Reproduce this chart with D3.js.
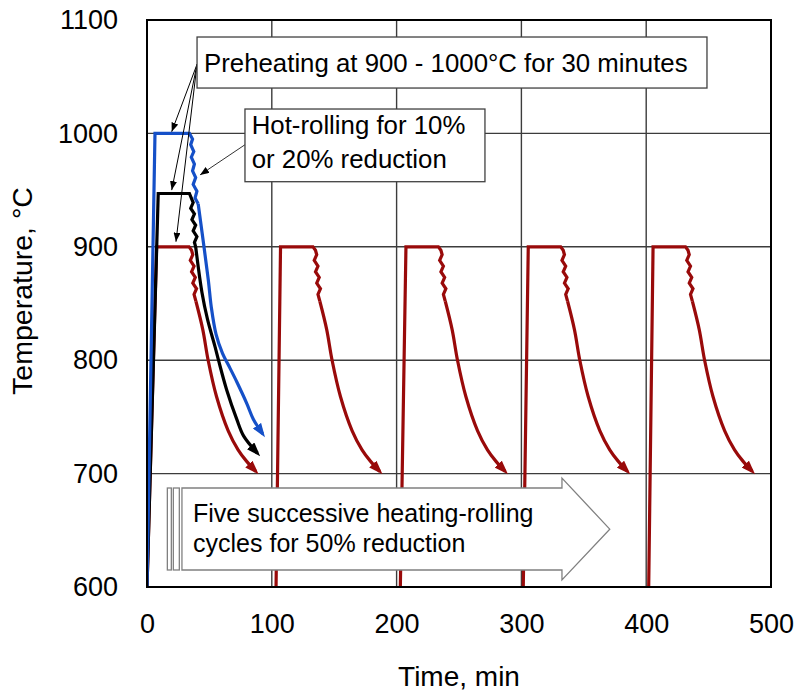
<!DOCTYPE html>
<html>
<head>
<meta charset="utf-8">
<script src="https://cdn.jsdelivr.net/npm/d3@7/dist/d3.min.js"></script>
<style>
  html, body { margin: 0; padding: 0; background: #fff; }
  svg { display: block; font-family: "Liberation Sans", Arial, sans-serif; }
</style>
</head>
<body>
<svg id="chart" width="797" height="696"></svg>
<script>
// ---------------- data ----------------
const xTicks = [0, 100, 200, 300, 400, 500];
const yTicks = [600, 700, 800, 900, 1000, 1100];
const xTitle = "Time, min";
const yTitle = "Temperature, \u00B0C";

// Blue: preheat at 1000 °C, then rolling (zigzag) and cooling
const blueHold = [[0, 600], [6.4, 1000], [34, 1000], [36.5, 995], [35, 990], [37.5, 984], [35.5, 979],
  [38, 973], [36.5, 967], [39, 961], [37, 955], [40, 949], [38.5, 943], [41, 938]];
const blueCool = [[41, 938], [49.1, 871], [51.5, 847], [55.3, 823], [60.5, 806], [65.1, 796],
  [71.9, 781], [79.9, 762], [85.2, 748], [92.7, 735]];

// Black: preheat at ~947 °C
const blackHold = [[0, 600], [9, 947], [34, 947], [37, 939], [35, 934], [38, 929], [36, 924],
  [39, 919], [37, 914], [40, 909], [38, 904], [39, 900]];
const blackCool = [[39, 900], [44, 860], [48.5, 836], [54.5, 812], [57.3, 800], [63.8, 774],
  [71.9, 748], [77.5, 733], [88.5, 718]];

// Red: five successive heating-rolling cycles at 900 °C
const redCycleStart = [0, 103.4, 203, 301.5, 402];   // time at 600 °C (start of heating)
const redCycleTop = [7.7, 107, 207.5, 305.5, 405.5];  // time reaching 900 °C
// one cycle, times counted from reaching 900 °C
const redHold = [[0, 900], [26, 900], [28, 897], [29, 893], [27, 888], [30, 883], [28, 878],
  [31, 873], [29, 868], [32, 863], [30, 858], [31.5, 852]];
const redCool = [[31.5, 852], [37, 827], [41.3, 800], [48, 768], [57.3, 738], [65.3, 721],
  [72, 711], [79.5, 702]];

// annotations (data units)
const noteTexts = ["Preheating at 900 - 1000\u00B0C for 30 minutes"];
const note2Lines = ["Hot-rolling for 10%", "or 20% reduction"];
const bigArrowLines = ["Five successive heating-rolling", "cycles for 50% reduction"];
const preheatArrowFrom = [40.1, 1061];
const preheatArrowTo = [[19.8, 1001.5], [19.8, 950], [23.2, 904.5]];
const rollArrowFrom = [78.5, 990];
const rollArrowTo = [42.5, 963.4];

// ---------------- layout ----------------
const plot = { left: 147, right: 771, top: 20, bottom: 587 };
const RED = "#990A0A", BLUE = "#1550C8", BLACK = "#000000";
const FONT = "'Liberation Sans', Arial, sans-serif";

const svg = d3.select("#chart");
const x = d3.scaleLinear().domain([0, 500]).range([plot.left, plot.right]);
const y = d3.scaleLinear().domain([600, 1100]).range([plot.bottom, plot.top]);

// markers
const defs = svg.append("defs");
function bigMarker(id, color) {
  defs.append("marker").attr("id", id)
    .attr("viewBox", "0 0 14 10").attr("refX", 10).attr("refY", 5)
    .attr("markerWidth", 14).attr("markerHeight", 10)
    .attr("markerUnits", "userSpaceOnUse").attr("orient", "auto")
    .append("path").attr("d", "M0,0 L14,5 L0,10 Z").attr("fill", color);
}
bigMarker("arrRed", RED); bigMarker("arrBlue", BLUE); bigMarker("arrBlack", BLACK);
defs.append("marker").attr("id", "arrThin")
  .attr("viewBox", "0 0 9 7").attr("refX", 9).attr("refY", 3.5)
  .attr("markerWidth", 9).attr("markerHeight", 7)
  .attr("markerUnits", "userSpaceOnUse").attr("orient", "auto")
  .append("path").attr("d", "M0,0 L9,3.5 L0,7 Z").attr("fill", "#000");
defs.append("clipPath").attr("id", "plotClip").append("rect")
  .attr("x", plot.left).attr("y", plot.top)
  .attr("width", plot.right - plot.left).attr("height", plot.bottom - plot.top);

// grid
const grid = svg.append("g");
grid.selectAll("line.v").data(xTicks.filter(d => d > 0 && d < 500)).join("line")
  .attr("x1", d => x(d)).attr("x2", d => x(d)).attr("y1", plot.top).attr("y2", plot.bottom)
  .attr("stroke", "#3c3c3c").attr("stroke-width", 1.4);
grid.selectAll("line.h").data(yTicks.filter(d => d > 600 && d < 1100)).join("line")
  .attr("x1", plot.left).attr("x2", plot.right).attr("y1", d => y(d)).attr("y2", d => y(d))
  .attr("stroke", "#3c3c3c").attr("stroke-width", 1.4);

// series
const lineLin = d3.line().x(d => x(d[0])).y(d => y(d[1])).curve(d3.curveLinear);
const lineSmooth = d3.line().x(d => x(d[0])).y(d => y(d[1])).curve(d3.curveCatmullRom.alpha(0.5));
const series = svg.append("g").attr("clip-path", "url(#plotClip)");

function drawSeries(hold, cool, color, marker) {
  series.append("path").attr("d", lineLin(hold)).attr("fill", "none")
    .attr("stroke", color).attr("stroke-width", 3.2).attr("stroke-linejoin", "miter");
  series.append("path").attr("d", lineSmooth(cool)).attr("fill", "none")
    .attr("stroke", color).attr("stroke-width", 3.2).attr("marker-end", `url(#${marker})`);
}
redCycleStart.forEach((t0, i) => {
  const tt = redCycleTop[i];
  const hold = [[t0, 600]].concat(redHold.map(([dt, T]) => [tt + dt, T]));
  const cool = redCool.map(([dt, T]) => [tt + dt, T]);
  drawSeries(hold, cool, RED, "arrRed");
});
drawSeries(blackHold, blackCool, BLACK, "arrBlack");
drawSeries(blueHold, blueCool, BLUE, "arrBlue");

// annotation: big arrow
const ann = svg.append("g");
const bx0 = x(28), bx1 = x(332.5), btip = x(370.8);
const byTop = y(687.3), byBot = y(615), hyTop = y(696.1), hyBot = y(606.2), byMid = y(651);
ann.append("path")
  .attr("d", `M${bx0},${byTop} L${bx1},${byTop} L${bx1},${hyTop} L${btip},${byMid} L${bx1},${hyBot} L${bx1},${byBot} L${bx0},${byBot} Z`)
  .attr("fill", "#fff").attr("stroke", "#808080").attr("stroke-width", 1.3);
[[16.3, 19.5], [21.1, 25.9]].forEach(([a, b]) => {
  ann.append("rect").attr("x", x(a)).attr("y", byTop).attr("width", x(b) - x(a)).attr("height", byBot - byTop)
    .attr("fill", "#fff").attr("stroke", "#808080").attr("stroke-width", 1.3);
});
bigArrowLines.forEach((s, i) => {
  ann.append("text").attr("x", x(36.9)).attr("y", y([657.3, 630.9][i]))
    .attr("font-size", 25).attr("fill", "#000").text(s);
});

// annotation: preheating box + arrows
preheatArrowTo.forEach(p => {
  ann.append("line").attr("x1", x(preheatArrowFrom[0])).attr("y1", y(preheatArrowFrom[1]))
    .attr("x2", x(p[0])).attr("y2", y(p[1])).attr("stroke", "#000").attr("stroke-width", 1)
    .attr("marker-end", "url(#arrThin)");
});
ann.append("rect").attr("x", x(40.1)).attr("y", y(1085)).attr("width", x(448.7) - x(40.1))
  .attr("height", y(1040) - y(1085)).attr("fill", "#fff").attr("stroke", "#404040").attr("stroke-width", 1.3);
ann.append("text").attr("x", x(45.7)).attr("y", y(1054)).attr("font-size", 25.8).attr("fill", "#000")
  .text(noteTexts[0]);

// annotation: hot-rolling box + arrow
ann.append("line").attr("x1", x(rollArrowFrom[0])).attr("y1", y(rollArrowFrom[1]))
  .attr("x2", x(rollArrowTo[0])).attr("y2", y(rollArrowTo[1])).attr("stroke", "#333").attr("stroke-width", 1)
  .attr("marker-end", "url(#arrThin)");
ann.append("rect").attr("x", x(78.5)).attr("y", y(1021.5)).attr("width", x(270.8) - x(78.5))
  .attr("height", y(957.4) - y(1021.5)).attr("fill", "#fff").attr("stroke", "#404040").attr("stroke-width", 1.3);
note2Lines.forEach((s, i) => {
  ann.append("text").attr("x", x(83.9)).attr("y", y([999.2, 969.2][i]))
    .attr("font-size", 25.8).attr("fill", "#000").text(s);
});

// border
svg.append("rect").attr("x", plot.left).attr("y", plot.top)
  .attr("width", plot.right - plot.left).attr("height", plot.bottom - plot.top)
  .attr("fill", "none").attr("stroke", "#000").attr("stroke-width", 2);

// axes
const xAxis = svg.append("g").attr("transform", `translate(0,${plot.bottom})`)
  .call(d3.axisBottom(x).tickValues(xTicks).tickSize(0).tickPadding(27).tickFormat(d3.format("d")));
const yAxis = svg.append("g").attr("transform", `translate(${plot.left},0)`)
  .call(d3.axisLeft(y).tickValues(yTicks).tickSize(0).tickPadding(29).tickFormat(d3.format("d")));
[xAxis, yAxis].forEach(g => {
  g.select(".domain").remove();
  g.selectAll("text").attr("font-size", 27).attr("font-family", FONT).attr("fill", "#000");
});

// titles
svg.append("text").attr("x", (plot.left + plot.right) / 2).attr("y", 686)
  .attr("text-anchor", "middle").attr("font-size", 28).attr("fill", "#000").text(xTitle);
svg.append("text").attr("transform", `translate(32,291) rotate(-90)`)
  .attr("text-anchor", "middle").attr("font-size", 28.5).attr("fill", "#000").text(yTitle);
</script>
</body>
</html>
